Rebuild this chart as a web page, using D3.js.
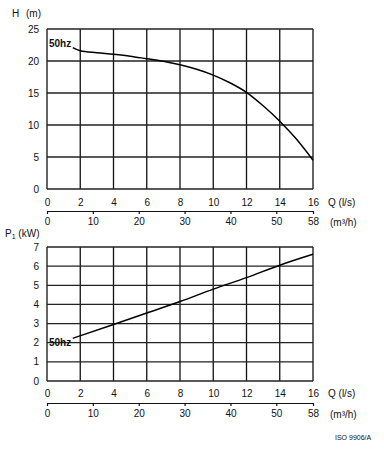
<!DOCTYPE html>
<html><head><meta charset="utf-8">
<script src="https://cdn.jsdelivr.net/npm/d3@7"></script>
<style>body{margin:0;background:#fff}svg{display:block}text{font-family:"Liberation Sans",Arial,sans-serif;fill:#111}</style>
</head><body>
<svg id="c" width="384" height="450"></svg>
<script>
const qTicks = [0,2,4,6,8,10,12,14,16];
const m3hTicks = [0,10,20,30,40,50,58];
const hTicks = [0,5,10,15,20,25];
const pTicks = [0,1,2,3,4,5,6,7];
const hQ = [1.55,2,3,4,5,6,7,8,9,10,11,12,13,14,15,16];
const hValues = [22.1,21.6,21.3,21.05,20.75,20.35,19.95,19.4,18.7,17.8,16.6,15.1,13.0,10.6,7.8,4.5];
const pQ = [1.55,4,6,8,10,12,14,16];
const pValues = [2.23,2.95,3.55,4.15,4.8,5.4,6.05,6.62];

const svg = d3.select("#c");
const x = d3.scaleLinear().domain([0,16]).range([47,313]);
const xm = d3.scaleLinear().domain([0,58]).range([47,313]);
const yH = d3.scaleLinear().domain([0,25]).range([189,29]);
const yP = d3.scaleLinear().domain([0,7]).range([381,247]);

function panel(y, ticks, axisY1, axisY2, curveQ, curveV, labelY) {
  const g = svg.append("g");
  g.selectAll("line.v").data(qTicks).join("line")
    .attr("x1", d=>x(d)).attr("x2", d=>x(d))
    .attr("y1", y(ticks[0])).attr("y2", y(ticks[ticks.length-1]))
    .attr("stroke","#111").attr("stroke-width",1.3);
  g.selectAll("line.h").data(ticks).join("line")
    .attr("x1", x(0)).attr("x2", x(16))
    .attr("y1", d=>y(d)).attr("y2", d=>y(d))
    .attr("stroke","#222").attr("stroke-width",1.3);
  g.selectAll("text.yt").data(ticks).join("text")
    .attr("x", 39).attr("y", d=>y(d)+3.5).attr("text-anchor","end")
    .attr("font-size",10).text(d=>d);
  const ax1 = g.append("g").attr("transform",`translate(0,${axisY1})`)
    .call(d3.axisBottom(x).tickValues(qTicks).tickSize(0).tickFormat(d3.format("d")));
  ax1.select(".domain").remove();
  ax1.selectAll("text").attr("font-size",10).attr("font-family","Liberation Sans, Arial").attr("dy","0.35em").attr("y",0);
  g.append("text").attr("x",328).attr("y",axisY1+3.5).attr("font-size",10).text("Q (l/s)");
  const ax2 = g.append("g").attr("transform",`translate(0,${axisY2})`)
    .call(d3.axisBottom(xm).tickValues(m3hTicks).tickSize(3).tickSizeOuter(0).tickPadding(4).tickFormat(d3.format("d")));
  ax2.select(".domain").attr("stroke","#111").attr("stroke-width",1.2);
  ax2.selectAll(".tick line").attr("stroke","#111").attr("stroke-width",1.2);
  ax2.selectAll("text").attr("font-size",10).attr("font-family","Liberation Sans, Arial").attr("fill","#111");
  g.append("text").attr("x",330).attr("y",axisY2+14.5).attr("font-size",10).text("(m³/h)");
  const line = d3.line().x((d,i)=>x(curveQ[i])).y(d=>y(d)).curve(d3.curveMonotoneX);
  g.append("path").attr("d", line(curveV)).attr("fill","none").attr("stroke","#000").attr("stroke-width",1.5);
  g.append("text").attr("x",49).attr("y",labelY).attr("font-size",10).attr("font-weight","bold").text("50hz");
  return g;
}

panel(yH, hTicks, 202, 211, hQ, hValues, 47);
panel(yP, pTicks, 393, 403, pQ, pValues, 346);

const hl = svg.append("text").attr("y",17).attr("font-size",10);
hl.append("tspan").attr("x",12).text("H");
hl.append("tspan").attr("x",26).text("(m)");
const pl = svg.append("text").attr("x",5).attr("y",237).attr("font-size",10);
pl.append("tspan").text("P");
pl.append("tspan").attr("font-size",7).attr("dy",2).text("1");
pl.append("tspan").attr("dy",-2).text(" (kW)");
svg.append("text").attr("x",335).attr("y",440).attr("font-size",7).text("ISO 9906/A");
</script>
</body></html>
